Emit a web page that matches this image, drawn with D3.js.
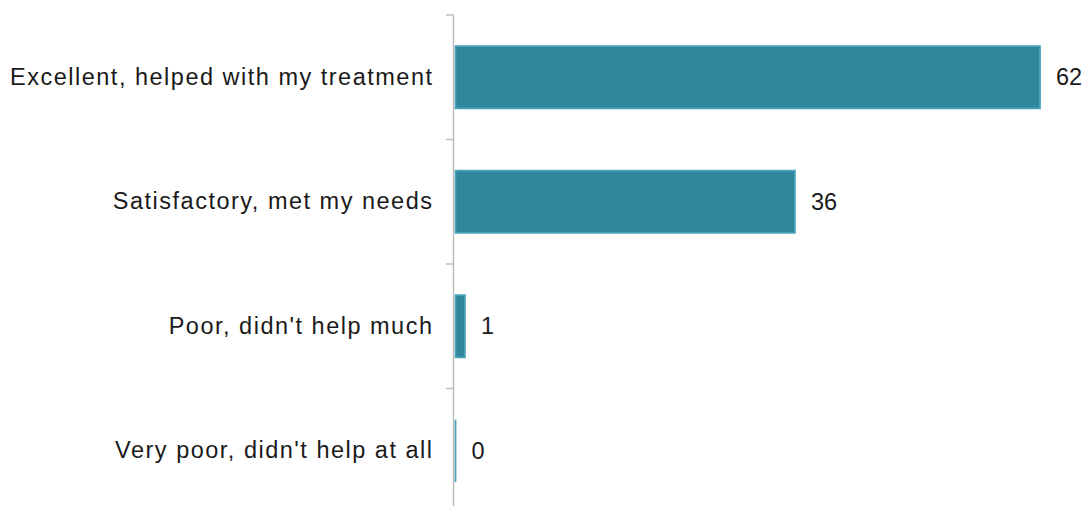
<!DOCTYPE html>
<html>
<head>
<meta charset="utf-8">
<script src="https://cdn.jsdelivr.net/npm/d3@7"></script>
<style>
  html, body { margin: 0; padding: 0; background: #ffffff; }
  svg { display: block; }
</style>
</head>
<body>
<svg id="chart" width="1088" height="506"></svg>
<script>
// Survey responses: how helpful the service was
const categories = [
  "Excellent, helped with my treatment",
  "Satisfactory, met my needs",
  "Poor, didn't help much",
  "Very poor, didn't help at all"
];
const values = [62, 36, 1, 0];

const svg = d3.select("#chart");
const font = "'Liberation Sans', Arial, sans-serif";

const x = d3.scaleLinear().domain([0, 62]).range([455.5, 1040]);
const y = d3.scaleBand().domain(categories).range([15, 513]).paddingInner(0.5).paddingOuter(0.25);
const bw = y.bandwidth();

// Axis line and tick marks at band boundaries
const yRange = y.range();
const step = y.step();
const bounds = d3.range(categories.length + 1).map(i => yRange[0] + i * step);
svg.append("line")
  .attr("x1", 453.5).attr("x2", 453.5)
  .attr("y1", yRange[0]).attr("y2", yRange[1])
  .attr("stroke", "#bdbdbd").attr("stroke-width", 1.5);
svg.append("g")
  .selectAll("line")
  .data(bounds)
  .join("line")
  .attr("x1", 446).attr("x2", 453.5)
  .attr("y1", d => d).attr("y2", d => d)
  .attr("stroke", "#bdbdbd").attr("stroke-width", 1.5);

// Bars drawn as paths so a zero value still shows its outline
svg.append("g")
  .selectAll("path")
  .data(categories)
  .join("path")
  .attr("d", (c, i) => {
    const x0 = x(0), x1 = x(values[i]), y0 = y(c);
    return `M${x0},${y0}H${x1}V${y0 + bw}H${x0}Z`;
  })
  .attr("fill", "#31859c")
  .attr("stroke", "#4aa3bb")
  .attr("stroke-width", 1.8);

// Category labels on the left
const axis = d3.axisLeft(y).tickSize(0).tickPadding(20);
const gAxis = svg.append("g").attr("transform", "translate(453.5,0)").call(axis);
gAxis.select(".domain").remove();
gAxis.selectAll("text")
  .attr("font-family", font)
  .attr("font-size", 23.5)
  .attr("letter-spacing", 1.5)
  .attr("fill", "#1a1a1a");

// Value labels at the end of each bar
svg.append("g")
  .selectAll("text")
  .data(categories)
  .join("text")
  .attr("x", (c, i) => x(values[i]) + 16)
  .attr("y", c => y(c) + bw / 2)
  .attr("dy", "0.35em")
  .attr("font-family", font)
  .attr("font-size", 23.5)
  .attr("fill", "#1a1a1a")
  .text((c, i) => d3.format("d")(values[i]));
</script>
</body>
</html>
